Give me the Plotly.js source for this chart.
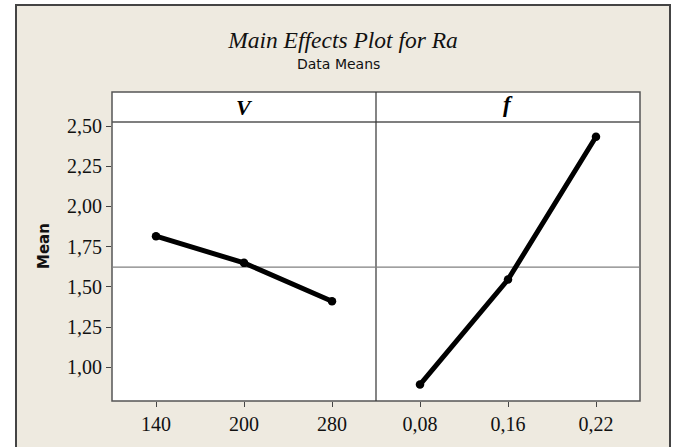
<!DOCTYPE html>
<html>
<head>
<meta charset="utf-8">
<script src="https://cdn.plot.ly/plotly-3.0.1.min.js"></script>
<style>html,body{margin:0;padding:0;background:#fff;}</style>
</head>
<body>
<div id="chart" style="width:677px;height:447px;"></div>
<script>
// Data
const vLevels = ['140', '200', '280'];
const vMeans = [1.815, 1.649, 1.410];
const fLevels = ['0,08', '0,16', '0,22'];
const fMeans = [0.892, 1.545, 2.433];
const grandMean = 1.623;
const yTicks = [1.00, 1.25, 1.50, 1.75, 2.00, 2.25, 2.50];
const panelNames = ['<b><i>V</i></b>', '<b><i>f</i></b>'];

const W = 677, H = 447;
const M = {l: 112, r: 37, t: 122, b: 46};
const pw = W - M.l - M.r, ph = H - M.t - M.b;
const px = x => (x - M.l) / pw;
const py = y => (H - M.b - y) / ph;

const serif = 'Liberation Serif, Times New Roman, serif';
const lineStyle = {color: '#000', width: 5};
const markerStyle = {color: '#000', size: 8.5};

const traces = [
  {x: vLevels, y: vMeans, xaxis: 'x', yaxis: 'y', mode: 'lines+markers',
   line: lineStyle, marker: markerStyle, hoverinfo: 'x+y'},
  {x: fLevels, y: fMeans, xaxis: 'x2', yaxis: 'y', mode: 'lines+markers',
   line: lineStyle, marker: markerStyle, hoverinfo: 'x+y'}
];

const xCommon = {
  type: 'category', range: [-0.5, 2.5], ticks: 'outside', ticklen: 5,
  tickcolor: '#444', tickwidth: 1, showline: false, showgrid: false, zeroline: false,
  tickfont: {family: serif, size: 20, color: '#111'}, fixedrange: true
};

const stripTop = py(92);
const layout = {
  width: W, height: H,
  margin: M,
  paper_bgcolor: '#fff',
  plot_bgcolor: 'rgba(0,0,0,0)',
  separators: ',.',
  showlegend: false,
  title: {
    text: '<i>Main Effects Plot for Ra</i>',
    font: {family: serif, size: 23.5, color: '#111'},
    x: 343 / W, xanchor: 'center', xref: 'container',
    y: 1 - 40 / H, yanchor: 'middle', yref: 'container'
  },
  xaxis: Object.assign({}, xCommon, {domain: [0, 0.5], anchor: 'y'}),
  xaxis2: Object.assign({}, xCommon, {domain: [0.5, 1], anchor: 'y'}),
  yaxis: {
    range: [0.79, 2.525], tickvals: yTicks, tickformat: '.2f',
    ticks: 'outside', ticklen: 5, tickcolor: '#444', tickwidth: 1,
    showgrid: false, zeroline: false, showline: false,
    tickfont: {family: serif, size: 20, color: '#111'}, fixedrange: true
  },
  shapes: [
    {type: 'rect', xref: 'paper', yref: 'paper', x0: px(16), x1: px(670), y0: py(470), y1: py(5),
     fillcolor: '#EEEAE0', line: {color: '#444', width: 2}, layer: 'below'},
    {type: 'rect', xref: 'paper', yref: 'paper', x0: 0, x1: 1, y0: 0, y1: stripTop,
     fillcolor: '#fff', line: {color: '#555', width: 1.5}, layer: 'below'},
    {type: 'line', xref: 'paper', yref: 'paper', x0: 0, x1: 1, y0: 1, y1: 1,
     line: {color: '#555', width: 1.5}, layer: 'below'},
    {type: 'line', xref: 'paper', yref: 'paper', x0: 0.5, x1: 0.5, y0: 0, y1: stripTop,
     line: {color: '#333', width: 1.2}, layer: 'below'},
    {type: 'line', xref: 'paper', yref: 'y', x0: 0, x1: 1, y0: grandMean, y1: grandMean,
     line: {color: '#808080', width: 1.2}, layer: 'below'}
  ],
  annotations: [
    {text: 'Data Means', xref: 'paper', yref: 'paper', x: px(338), y: py(64),
     showarrow: false, xanchor: 'center', yanchor: 'middle',
     font: {family: 'DejaVu Sans, sans-serif', size: 14, color: '#111'}},
    {text: panelNames[0], xref: 'paper', yref: 'paper', x: 0.25, y: py(107),
     showarrow: false, xanchor: 'center', yanchor: 'middle',
     font: {family: serif, size: 22, color: '#000'}},
    {text: panelNames[1], xref: 'paper', yref: 'paper', x: 0.75, y: py(104),
     showarrow: false, xanchor: 'center', yanchor: 'middle',
     font: {family: serif, size: 23, color: '#000'}},
    {text: '<b>Mean</b>', xref: 'paper', yref: 'paper', x: px(44), y: py(246),
     showarrow: false, xanchor: 'center', yanchor: 'middle', textangle: -90,
     font: {family: 'DejaVu Sans, sans-serif', size: 15, color: '#111'}}
  ]
};

Plotly.newPlot('chart', traces, layout, {displayModeBar: false, staticPlot: true});
</script>
</body>
</html>
